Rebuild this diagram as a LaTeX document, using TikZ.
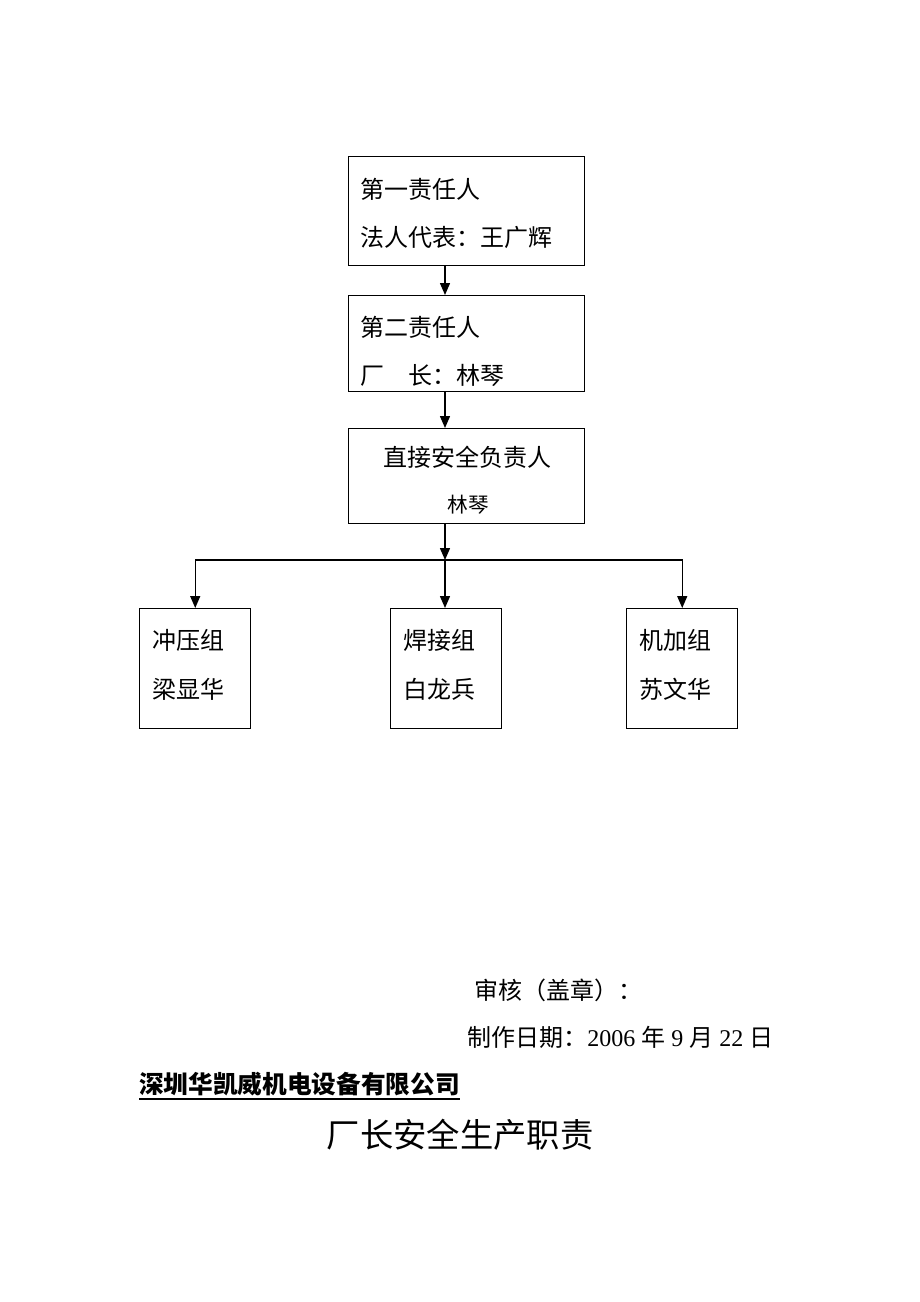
\documentclass[tikz,border=0pt]{standalone}
\usepackage{fontspec}
\setmainfont{Liberation Serif}
\newfontfamily\cjk{Noto Sans CJK SC}
\usetikzlibrary{arrows.meta}
\begin{document}
\begin{tikzpicture}[x=0.75pt,y=-0.75pt,
  box/.style={draw,line width=1.1pt,anchor=north west,inner sep=0pt},
  lbl/.style={anchor=west,inner sep=0pt,font=\cjk\fontsize{18}{18}\selectfont},
  clbl/.style={inner sep=0pt,font=\cjk\fontsize{18}{18}\selectfont},
  arr/.style={-{Triangle[length=9pt,width=7.5pt]},line width=1.1pt}]
\useasboundingbox[fill=white] (0,0) rectangle (920,1302);
% boxes
\node[box,minimum width=177pt,minimum height=81.75pt] (b1) at (348,156) {};
\node[box,minimum width=177pt,minimum height=72pt] (b2) at (348,295) {};
\node[box,minimum width=177pt,minimum height=71.25pt] (b3) at (348,428) {};
\node[box,minimum width=83.25pt,minimum height=90pt] (g1) at (139,608) {};
\node[box,minimum width=83.25pt,minimum height=90pt] (g2) at (390,608) {};
\node[box,minimum width=83.25pt,minimum height=90pt] (g3) at (626,608) {};
% texts
\node[lbl] (t11) at (360,189) {第一责任人};
\node[lbl] (t12) at (360,237) {法人代表：王广辉};
\node[lbl] (t21) at (360,327) {第二责任人};
\node[lbl] (t22) at (360,375) {厂\quad 长：林琴};
\node[clbl] (t31) at (467,457) {直接安全负责人};
\node[inner sep=0pt,font=\cjk\fontsize{15.5}{15.5}\selectfont] (t32) at (468,505) {林琴};
\node[lbl] (g1a) at (152,640) {冲压组};
\node[lbl] (g1b) at (152,689) {梁显华};
\node[lbl] (g2a) at (403,640) {焊接组};
\node[lbl] (g2b) at (403,689) {白龙兵};
\node[lbl] (g3a) at (639,640) {机加组};
\node[lbl] (g3b) at (639,689) {苏文华};
% connectors
\path (b1.south west) ++(97,0) coordinate (a1);
\path (b2.north west) ++(97,0) coordinate (a2);
\path (b2.south west) ++(97,0) coordinate (a3);
\path (b3.north west) ++(97,0) coordinate (a4);
\path (b3.south west) ++(97,0) coordinate (a5);
\coordinate (j) at (445,560);
\draw[arr] (a1) -- (a2);
\draw[arr] (a3) -- (a4);
\draw[arr] (a5) -- (j);
\draw[arr] (j) -- (j |- g2.north);
\draw[arr] (j) -| (g1.north);
\draw[arr] (j) -| (g3.north);
% footer
\node[lbl] (sh) at (474,990) {审核（盖章）：};
\node[anchor=west,inner sep=0pt,font=\fontsize{18}{18}\selectfont] (dt) at (467,1037) {{\cjk 制作日期：}2006 {\cjk 年} 9 {\cjk 月} 22 {\cjk 日}};
\node[anchor=west,inner sep=0pt,font=\cjk\bfseries\fontsize{18.5}{18.5}\selectfont] (co) at (139,1084) {深圳华凯威机电设备有限公司};
\draw[line width=1pt] ([yshift=-2pt]co.south west) -- ([yshift=-2pt]co.south east);
\node[inner sep=0pt,font=\cjk\fontsize{25}{25}\selectfont] (ti) at (460,1135) {厂长安全生产职责};
\end{tikzpicture}
\end{document}
